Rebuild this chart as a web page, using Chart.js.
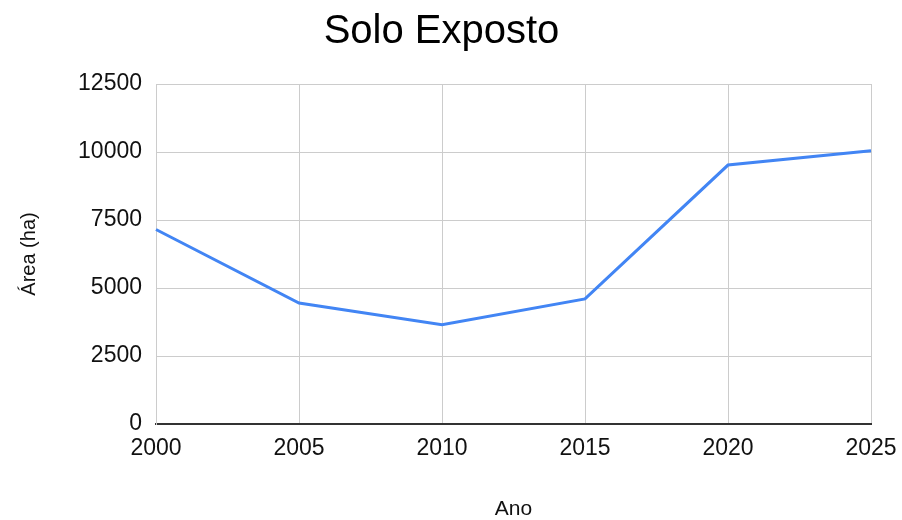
<!DOCTYPE html>
<html>
<head>
<meta charset="utf-8">
<title>Solo Exposto</title>
<script src="https://cdn.jsdelivr.net/npm/chart.js@4"></script>
<style>
  body { margin: 0; background: #fff; }
  canvas { display: block; }
</style>
</head>
<body>
<canvas id="soloChart" width="902" height="520"></canvas>
<script>
"use strict";

// data
const anos = ["2000", "2005", "2010", "2015", "2020", "2025"];
const areaHa = [7150, 4450, 3650, 4600, 9520, 10050];
const yTicks = [0, 2500, 5000, 7500, 10000, 12500];

const fontFamily = "'Liberation Sans', Arial, sans-serif";

let chart = document.querySelector("#soloChart");
let soloChart = new Chart(chart, {
  type: "line",
  data: {
    labels: anos,
    datasets: [{
      label: "Solo Exposto",
      data: areaHa,
      borderColor: "#4285f4",
      backgroundColor: "#4285f4",
      borderWidth: 3,
      pointRadius: 0,
      pointHoverRadius: 0,
      tension: 0,
      fill: false
    }]
  },
  options: {
    responsive: false,
    animation: false,
    layout: {
      padding: { left: 12, right: 31, top: 0, bottom: 0 }
    },
    plugins: {
      legend: { display: false },
      tooltip: { enabled: false },
      title: {
        display: true,
        text: "Solo Exposto",
        color: "#000",
        font: { family: fontFamily, size: 40, weight: "normal" },
        padding: { top: 8, bottom: 28 }
      }
    },
    scales: {
      x: {
        offset: false,
        grid: { color: "#cccccc", lineWidth: 1, drawTicks: false },
        border: { color: "#333333", width: 2 },
        ticks: {
          color: "#111",
          font: { family: fontFamily, size: 23 },
          padding: 11,
          maxRotation: 0,
          autoSkip: false
        },
        title: {
          display: true,
          text: "Ano",
          color: "#111",
          font: { family: fontFamily, size: 21, lineHeight: 1 },
          padding: 0
        },
        // let the last year label hang into the right margin
        afterFit: scale => {
          scale.height = 96;
          scale.paddingRight = 0;
        }
      },
      y: {
        min: 0,
        max: 12500,
        afterBuildTicks: scale => {
          scale.ticks = yTicks.map(v => ({ value: v }));
        },
        grid: { color: "#cccccc", lineWidth: 1, drawTicks: false },
        border: { color: "#cccccc", width: 1 },
        ticks: {
          color: "#111",
          font: { family: fontFamily, size: 23 },
          padding: 14,
          callback: value => String(value)
        },
        title: {
          display: true,
          text: "Área (ha)",
          color: "#111",
          font: { family: fontFamily, size: 20, lineHeight: 1 },
          padding: { top: 7, bottom: 0 }
        },
        afterFit: scale => { scale.width = 144; }
      }
    }
  }
});
</script>
</body>
</html>
